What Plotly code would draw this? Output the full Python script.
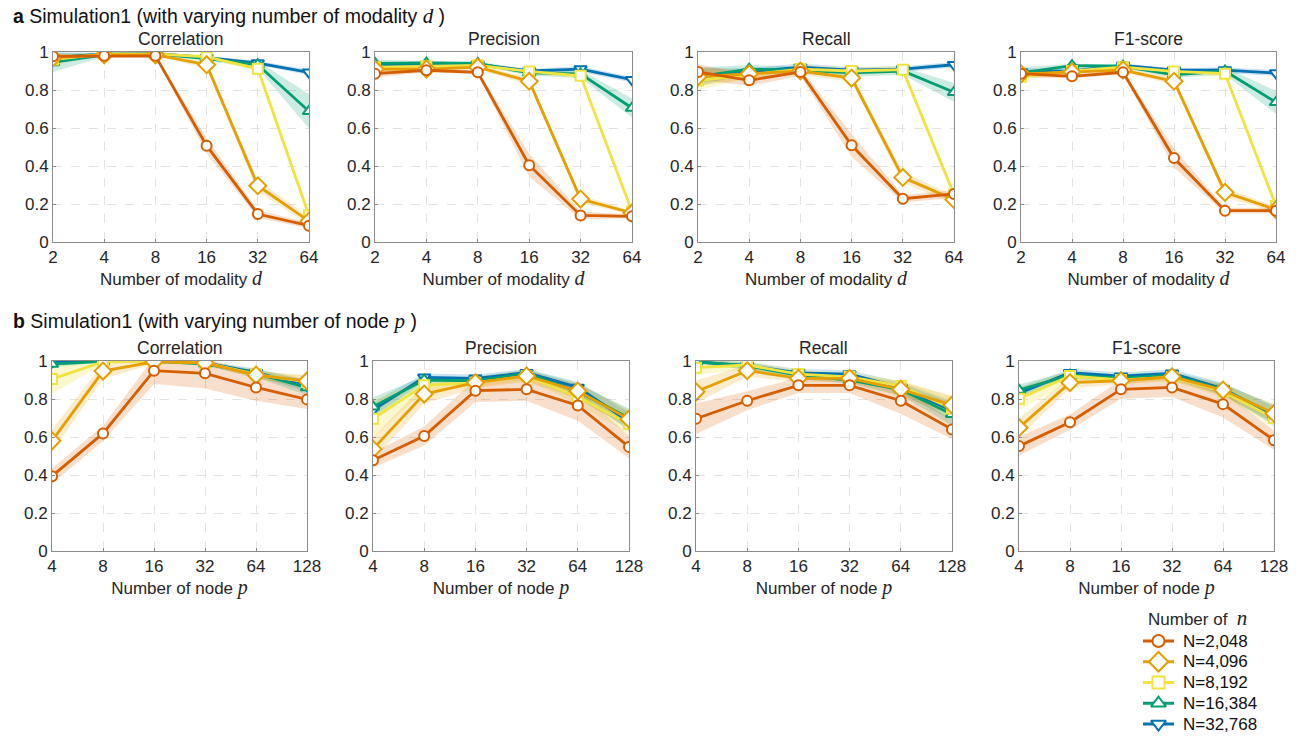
import math
import plotly.graph_objects as go

# Series: sample sizes, colours and marker shapes
n_labels = ["N=2,048", "N=4,096", "N=8,192", "N=16,384", "N=32,768"]
colors = ["#D55E00", "#E69F00", "#F0E442", "#009E73", "#0072B2"]
band_colors = ["rgba(213,94,0,0.2)", "rgba(230,159,0,0.2)", "rgba(240,228,66,0.25)",
               "rgba(0,158,115,0.2)", "rgba(0,114,178,0.2)"]
symbols = ["circle", "diamond", "square", "triangle-up", "triangle-down"]
sizes = [10, 13, 10, 11, 11]

modality = [2, 4, 8, 16, 32, 64]
nodes = [4, 8, 16, 32, 64, 128]

# ---- (a) varying number of modality d : mean values (rows follow n_labels)
corr_d = [
    [0.977, 0.980, 0.980, 0.507, 0.147, 0.086],
    [0.970, 0.985, 0.985, 0.933, 0.296, 0.110],
    [0.960, 0.990, 0.990, 0.974, 0.912, 0.139],
    [0.945, 0.985, 0.990, 0.965, 0.933, 0.688],
    [0.970, 0.990, 0.992, 0.970, 0.942, 0.893],
]
prec_d = [
    [0.886, 0.904, 0.893, 0.404, 0.140, 0.135],
    [0.910, 0.910, 0.920, 0.846, 0.226, 0.153],
    [0.920, 0.925, 0.930, 0.898, 0.875, 0.161],
    [0.940, 0.942, 0.940, 0.890, 0.885, 0.705],
    [0.930, 0.930, 0.935, 0.900, 0.910, 0.854],
]
rec_d = [
    [0.895, 0.851, 0.895, 0.509, 0.228, 0.253],
    [0.870, 0.885, 0.900, 0.863, 0.340, 0.223],
    [0.850, 0.880, 0.910, 0.900, 0.907, 0.250],
    [0.870, 0.910, 0.905, 0.890, 0.900, 0.788],
    [0.875, 0.895, 0.920, 0.905, 0.910, 0.933],
]
f1_d = [
    [0.886, 0.872, 0.893, 0.442, 0.165, 0.165],
    [0.885, 0.895, 0.905, 0.846, 0.261, 0.170],
    [0.870, 0.900, 0.920, 0.898, 0.886, 0.190],
    [0.890, 0.928, 0.925, 0.880, 0.900, 0.735],
    [0.895, 0.900, 0.930, 0.905, 0.905, 0.889],
]
# spread (half-width of shaded band)
corr_d_sd = [
    [0.010, 0.005, 0.005, 0.040, 0.020, 0.015],
    [0.020, 0.005, 0.005, 0.020, 0.030, 0.020],
    [0.030, 0.005, 0.005, 0.010, 0.015, 0.020],
    [0.050, 0.010, 0.005, 0.010, 0.020, 0.090],
    [0.030, 0.005, 0.005, 0.010, 0.010, 0.015],
]
prec_d_sd = [
    [0.020, 0.010, 0.010, 0.060, 0.020, 0.010],
    [0.020, 0.010, 0.010, 0.020, 0.020, 0.010],
    [0.020, 0.010, 0.010, 0.015, 0.015, 0.015],
    [0.020, 0.010, 0.010, 0.015, 0.020, 0.050],
    [0.020, 0.010, 0.010, 0.010, 0.015, 0.015],
]
rec_d_sd = [
    [0.040, 0.030, 0.020, 0.060, 0.020, 0.020],
    [0.050, 0.020, 0.020, 0.020, 0.030, 0.020],
    [0.050, 0.020, 0.020, 0.020, 0.020, 0.020],
    [0.050, 0.020, 0.020, 0.020, 0.020, 0.050],
    [0.040, 0.020, 0.020, 0.015, 0.015, 0.015],
]
f1_d_sd = [
    [0.020, 0.010, 0.010, 0.050, 0.015, 0.015],
    [0.020, 0.010, 0.010, 0.020, 0.025, 0.015],
    [0.020, 0.010, 0.010, 0.015, 0.015, 0.015],
    [0.030, 0.010, 0.010, 0.015, 0.020, 0.060],
    [0.020, 0.010, 0.010, 0.010, 0.015, 0.015],
]

# ---- (b) varying number of node p : mean values
corr_p = [
    [0.394, 0.619, 0.949, 0.935, 0.861, 0.798],
    [0.580, 0.947, 0.996, 0.990, 0.926, 0.895],
    [0.905, 0.996, 0.998, 0.990, 0.930, 0.890],
    [0.984, 0.998, 0.998, 0.985, 0.935, 0.860],
    [0.995, 0.999, 0.999, 0.990, 0.940, 0.870],
]
prec_p = [
    [0.478, 0.605, 0.844, 0.851, 0.766, 0.548],
    [0.536, 0.826, 0.886, 0.921, 0.842, 0.694],
    [0.696, 0.873, 0.885, 0.920, 0.812, 0.668],
    [0.759, 0.900, 0.895, 0.935, 0.840, 0.700],
    [0.742, 0.914, 0.909, 0.938, 0.861, 0.680],
]
rec_p = [
    [0.696, 0.791, 0.872, 0.872, 0.791, 0.640],
    [0.838, 0.949, 0.909, 0.909, 0.851, 0.768],
    [0.965, 0.979, 0.931, 0.917, 0.868, 0.750],
    [0.996, 0.975, 0.925, 0.900, 0.850, 0.720],
    [0.995, 0.975, 0.938, 0.931, 0.860, 0.740],
]
f1_p = [
    [0.552, 0.678, 0.851, 0.861, 0.773, 0.583],
    [0.649, 0.886, 0.896, 0.917, 0.847, 0.724],
    [0.801, 0.921, 0.900, 0.915, 0.840, 0.700],
    [0.847, 0.925, 0.910, 0.925, 0.850, 0.720],
    [0.830, 0.938, 0.920, 0.935, 0.855, 0.710],
]
corr_p_sd = [
    [0.040, 0.040, 0.070, 0.080, 0.070, 0.050],
    [0.060, 0.040, 0.010, 0.010, 0.020, 0.030],
    [0.080, 0.010, 0.005, 0.010, 0.020, 0.030],
    [0.020, 0.005, 0.005, 0.010, 0.020, 0.040],
    [0.010, 0.005, 0.005, 0.010, 0.020, 0.030],
]
prec_p_sd = [
    [0.040, 0.050, 0.060, 0.060, 0.080, 0.060],
    [0.060, 0.050, 0.030, 0.030, 0.040, 0.050],
    [0.100, 0.030, 0.020, 0.020, 0.040, 0.050],
    [0.050, 0.020, 0.020, 0.020, 0.040, 0.050],
    [0.040, 0.020, 0.020, 0.020, 0.030, 0.050],
]
rec_p_sd = [
    [0.080, 0.050, 0.040, 0.040, 0.070, 0.050],
    [0.060, 0.030, 0.020, 0.020, 0.040, 0.050],
    [0.040, 0.020, 0.020, 0.020, 0.030, 0.060],
    [0.010, 0.020, 0.020, 0.020, 0.030, 0.060],
    [0.010, 0.020, 0.020, 0.020, 0.030, 0.050],
]
f1_p_sd = [
    [0.050, 0.040, 0.050, 0.050, 0.070, 0.050],
    [0.050, 0.030, 0.020, 0.020, 0.030, 0.050],
    [0.060, 0.030, 0.020, 0.020, 0.030, 0.050],
    [0.030, 0.020, 0.020, 0.020, 0.030, 0.050],
    [0.030, 0.020, 0.020, 0.020, 0.030, 0.050],
]

metric_titles = ["Correlation", "Precision", "Recall", "F1-score"]
y_ticks = [0, 0.2, 0.4, 0.6, 0.8, 1]
y_ticktext = ["0", "0.2", "0.4", "0.6", "0.8", "1"]

W, H = 1297, 738
FONT = "Liberation Sans, Arial, sans-serif"
TEXT = "#262626"

# Plot-area placement in pixels (left, right) per column, (top, bottom) per row
cols_a = [(53, 309), (375, 632), (698, 954), (1021, 1276)]
cols_b = [(52, 307), (373, 629), (696, 952), (1019, 1274)]
row_a = (52, 242)
row_b = (361, 551)


def px_x(p):
    return p / W


def px_y(p):
    return 1 - p / H


def math_it(ch, size=19):
    return ("<span style=\"font-family:'Liberation Serif', serif; font-size:%dpx\"><i>" % size
            + ch + "</i></span>")


fig = go.Figure()
layout = dict(
    width=W, height=H, margin=dict(l=0, r=0, t=0, b=0, autoexpand=False),
    paper_bgcolor="white", plot_bgcolor="white", showlegend=False,
    font=dict(family=FONT, color=TEXT, size=16),
)
annotations = []

panels = [
    (modality, [corr_d, prec_d, rec_d, f1_d], [corr_d_sd, prec_d_sd, rec_d_sd, f1_d_sd],
     cols_a, row_a, "Number of modality " + math_it("d", 20)),
    (nodes, [corr_p, prec_p, rec_p, f1_p], [corr_p_sd, prec_p_sd, rec_p_sd, f1_p_sd],
     cols_b, row_b, "Number of node " + math_it("p", 20)),
]

ax = 0
for xs, means, sds, cols, row, xtitle in panels:
    for m in range(4):
        ax += 1
        xref = "x" if ax == 1 else f"x{ax}"
        yref = "y" if ax == 1 else f"y{ax}"
        mean, sd = means[m], sds[m]
        # shaded bands first, largest N at the back
        for s in reversed(range(5)):
            upper = [v + e for v, e in zip(mean[s], sd[s])]
            lower = [v - e for v, e in zip(mean[s], sd[s])]
            fig.add_trace(go.Scatter(
                x=xs + xs[::-1], y=upper + lower[::-1], mode="lines",
                fill="toself", fillcolor=band_colors[s], line=dict(width=0),
                hoverinfo="skip", xaxis=xref, yaxis=yref))
        for s in reversed(range(5)):
            fig.add_trace(go.Scatter(
                x=xs, y=mean[s], mode="lines+markers", name=n_labels[s],
                line=dict(color=colors[s], width=2.8),
                marker=dict(symbol=symbols[s], size=sizes[s], color="white",
                            line=dict(color=colors[s], width=2)),
                xaxis=xref, yaxis=yref))
        l, r = cols[m]
        t, b = row
        key = "" if ax == 1 else str(ax)
        layout["xaxis" + key] = dict(
            domain=[px_x(l), px_x(r)], anchor=yref, type="log",
            range=[math.log10(xs[0]), math.log10(xs[-1])],
            tickvals=xs, ticktext=[str(v) for v in xs],
            showline=True, mirror=True, linecolor="#8c8c8c", linewidth=1,
            ticks="inside", ticklen=3, tickcolor="#8c8c8c",
            showgrid=True, gridcolor="#e3e3e3", griddash="dash", gridwidth=1,
            zeroline=False, tickfont=dict(size=17, color=TEXT),
            title=dict(text=xtitle, font=dict(size=17, color=TEXT), standoff=1),
        )
        layout["yaxis" + key] = dict(
            domain=[px_y(b), px_y(t)], anchor=xref, range=[0, 1],
            tickvals=y_ticks, ticktext=y_ticktext,
            showline=True, mirror=True, linecolor="#8c8c8c", linewidth=1,
            ticks="inside", ticklen=3, tickcolor="#8c8c8c",
            showgrid=True, gridcolor="#e3e3e3", griddash="dash", gridwidth=1,
            zeroline=False, tickfont=dict(size=17, color=TEXT),
        )
        annotations.append(dict(
            text=metric_titles[m], x=px_x((l + r) / 2), y=px_y(t - 13),
            xref="paper", yref="paper", xanchor="center", yanchor="middle",
            showarrow=False, font=dict(size=17.5, color=TEXT)))

# Section headings
annotations.append(dict(
    text="<b>a</b> Simulation1 (with varying number of modality " + math_it("d", 21) + " )",
    x=px_x(11), y=px_y(16), xref="paper", yref="paper", xanchor="left",
    yanchor="middle", showarrow=False, font=dict(size=19.5, color="#111111")))
annotations.append(dict(
    text="<b>b</b> Simulation1 (with varying number of node " + math_it("p", 21) + " )",
    x=px_x(11), y=px_y(321), xref="paper", yref="paper", xanchor="left",
    yanchor="middle", showarrow=False, font=dict(size=19.5, color="#111111")))

# Key for the sample sizes, drawn on its own hidden axis
leg_rows = list(range(5))
layout["xaxis9"] = dict(domain=[px_x(1143), px_x(1174)], range=[0, 1], visible=False,
                        anchor="y9", fixedrange=True)
layout["yaxis9"] = dict(domain=[px_y(735), px_y(630)], range=[4.53, -0.53], visible=False,
                        anchor="x9", fixedrange=True)
for s in range(5):
    fig.add_trace(go.Scatter(
        x=[0, 1], y=[leg_rows[s]] * 2, mode="lines",
        line=dict(color=colors[s], width=3),
        cliponaxis=False, hoverinfo="skip", xaxis="x9", yaxis="y9"))
    fig.add_trace(go.Scatter(
        x=[0.5], y=[leg_rows[s]], mode="markers",
        marker=dict(symbol=symbols[s], size=sizes[s] + 2, color="white",
                    line=dict(color=colors[s], width=2)),
        cliponaxis=False, hoverinfo="skip", xaxis="x9", yaxis="y9"))
    annotations.append(dict(
        text=n_labels[s], x=1, y=leg_rows[s], xref="x9", yref="y9", xanchor="left",
        yanchor="middle", xshift=7, showarrow=False, font=dict(size=17, color="#111111")))
annotations.append(dict(
    text="Number of  " + math_it("n", 21), x=px_x(1146), y=px_y(618), xref="paper",
    yref="paper", xanchor="left", yanchor="middle", showarrow=False,
    font=dict(size=17, color=TEXT)))

layout["annotations"] = annotations
fig.update_layout(**layout)
fig.write_html(
    "out.html",
    post_script="document.body.style.margin='0';document.body.style.overflow='hidden';",
)
